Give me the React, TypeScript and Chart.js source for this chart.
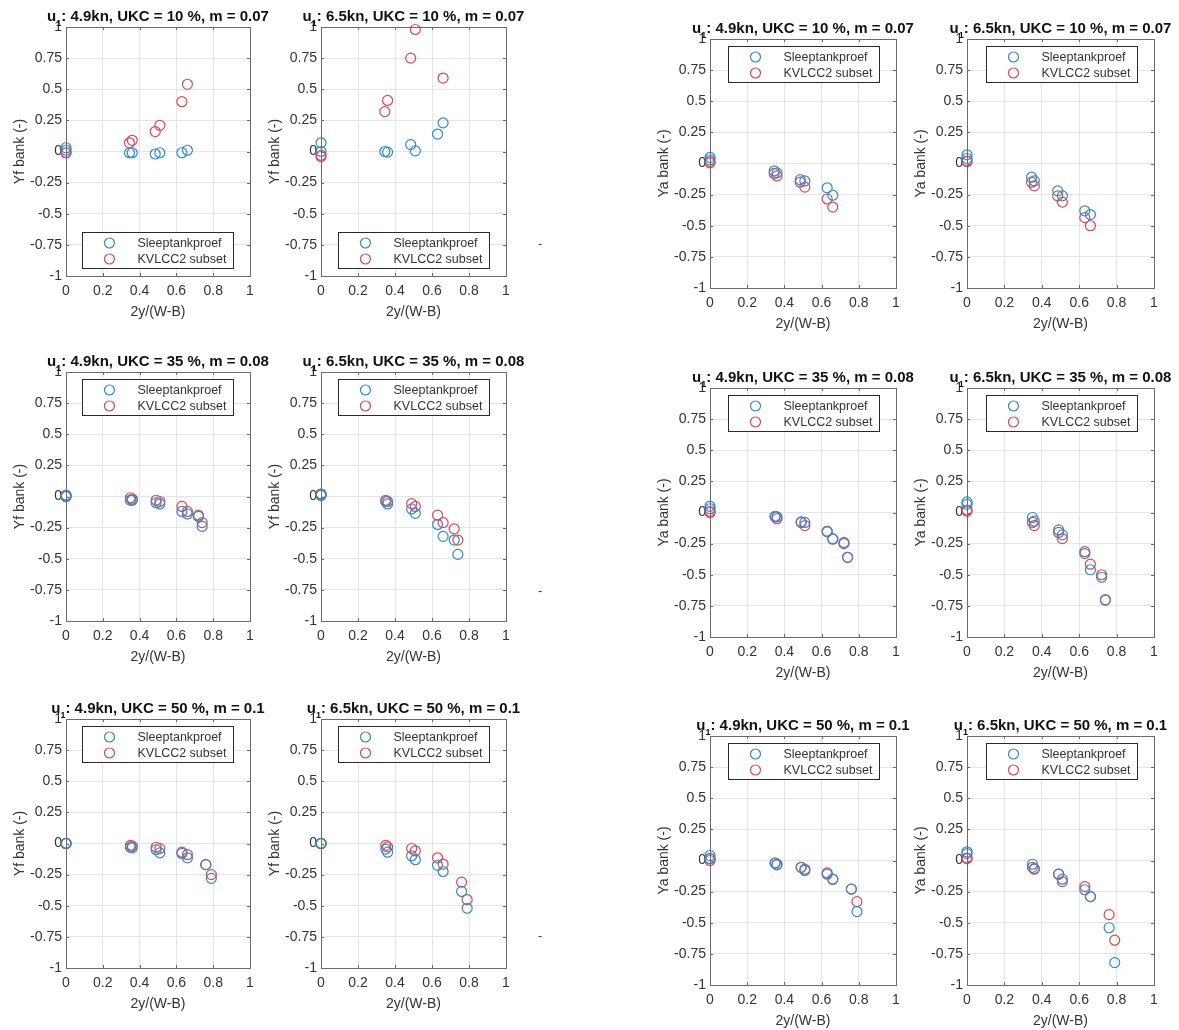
import React, { useEffect, useRef } from 'react';
import { Chart, registerables } from 'chart.js';
Chart.register(...registerables);

// ---------- tick values / labels ----------
const xTickValues = [0, 0.2, 0.4, 0.6, 0.8, 1];
const xTickLabels = ['0', '0.2', '0.4', '0.6', '0.8', '1'];
const yTickValues = [-1, -0.75, -0.5, -0.25, 0, 0.25, 0.5, 0.75, 1];
const yTickLabels = ['-1', '-0.75', '-0.5', '-0.25', '0', '0.25', '0.5', '0.75', '1'];
const seriesNames = ['Sleeptankproef', 'KVLCC2 subset'];
const speeds = ['4.9kn', '6.5kn'];
const ukcs = ['10 %', '35 %', '50 %'];
const mValues = ['0.07', '0.08', '0.1'];
const xLabel = '2y/(W-B)';
const yLabels = ['Yf bank (-)', 'Ya bank (-)'];

// ---------- x positions 2y/(W-B) ----------
const x10 = [0, 0, 0.345, 0.36, 0.485, 0.51, 0.63, 0.66];
const x35 = [0, 0, 0.35, 0.36, 0.49, 0.51, 0.63, 0.66, 0.72, 0.74];
const x50 = [0, 0, 0.35, 0.36, 0.49, 0.51, 0.63, 0.66, 0.76, 0.79];

// ---------- Yf bank ----------
const yf49_10_exp = [0.03, 0.01, -0.01, -0.01, -0.02, -0.01, -0.01, 0.01];
const yf49_10_kv = [-0.01, -0.01, 0.07, 0.09, 0.16, 0.21, 0.40, 0.54];
const yf65_10_exp = [0.07, 0.0, 0.0, -0.005, 0.055, 0.005, 0.14, 0.23];
const yf65_10_kv = [-0.04, -0.03, 0.32, 0.41, 0.75, 0.98, null, 0.59];
const yf49_35_exp = [0.01, 0.0, -0.03, -0.03, -0.05, -0.06, -0.12, -0.14, -0.16, -0.24];
const yf49_35_kv = [0.01, 0.0, -0.01, -0.02, -0.03, -0.04, -0.08, -0.12, -0.15, -0.21];
const yf65_35_exp = [0.02, 0.01, -0.04, -0.06, -0.10, -0.135, -0.225, -0.32, -0.35, -0.465];
const yf65_35_kv = [0.02, 0.01, -0.03, -0.04, -0.057, -0.08, -0.15, -0.21, -0.26, -0.35];
const yf49_50_exp = [0, 0, -0.03, -0.035, -0.05, -0.075, -0.08, -0.115, -0.17, -0.28];
const yf49_50_kv = [0, 0, -0.015, -0.02, -0.03, -0.04, -0.07, -0.09, -0.17, -0.25];
const yf65_50_exp = [0, 0, -0.045, -0.07, -0.10, -0.13, -0.175, -0.225, -0.385, -0.52];
const yf65_50_kv = [0, 0, -0.015, -0.027, -0.04, -0.06, -0.115, -0.165, -0.31, -0.45];

// ---------- Ya bank ----------
const ya49_10_exp = [0.05, 0.03, -0.06, -0.075, -0.13, -0.14, -0.195, -0.255];
const ya49_10_kv = [0.015, 0.005, -0.08, -0.10, -0.15, -0.19, -0.285, -0.35];
const ya65_10_exp = [0.07, 0.04, -0.11, -0.14, -0.22, -0.26, -0.38, -0.41];
const ya65_10_kv = [0.02, 0.015, -0.15, -0.18, -0.26, -0.31, -0.435, -0.50];
const ya49_35_exp = [0.05, 0.03, -0.03, -0.035, -0.075, -0.08, -0.15, -0.21, -0.24, -0.36];
const ya49_35_kv = [0.01, 0.0, -0.035, -0.05, -0.08, -0.105, -0.155, -0.215, -0.25, -0.36];
const ya65_35_exp = [0.085, 0.065, -0.04, -0.07, -0.14, -0.18, -0.33, -0.46, -0.52, -0.705];
const ya65_35_kv = [0.02, 0.01, -0.08, -0.105, -0.16, -0.21, -0.315, -0.415, -0.50, -0.70];
const ya49_50_exp = [0.04, 0.015, -0.02, -0.03, -0.055, -0.08, -0.11, -0.15, -0.23, -0.41];
const ya49_50_kv = [0.015, 0.0, -0.02, -0.035, -0.055, -0.07, -0.10, -0.15, -0.23, -0.33];
const ya65_50_exp = [0.07, 0.055, -0.03, -0.065, -0.11, -0.17, -0.235, -0.29, -0.54, -0.82];
const ya65_50_kv = [0.015, 0.02, -0.055, -0.07, -0.11, -0.15, -0.21, -0.29, -0.435, -0.64];

// ---------- layout (plot-area rectangles) ----------
const colLeft = [66, 321, 710, 967];
const colWidth = [184, 185, 186, 187];
const rowTopLeftGroup = [27, 372, 719];
const rowTopRightGroup = [39, 388, 736];
const plotHeight = 249;
const PAD_L = 70;
const PAD_T = 34;
const PAD_R = 44;
const PAD_B = 52;

const BLUE = '#2b8ccf';
const RED = '#e8434f';
const GRID = '#e4e4e4';
const BOX = '#6b6b6b';
const TEXT = '#333333';
const FONT = '"Liberation Sans", Arial, Helvetica, sans-serif';

type PanelDef = {
  left: number; top: number; width: number;
  speed: string; ukc: string; m: string; yLabel: string;
  xs: number[]; exp: (number | null)[]; kv: (number | null)[];
  legendPos: 'top' | 'bottom';
};

const xsByRow = [x10, x35, x50];
const yfExp = [[yf49_10_exp, yf65_10_exp], [yf49_35_exp, yf65_35_exp], [yf49_50_exp, yf65_50_exp]];
const yfKv = [[yf49_10_kv, yf65_10_kv], [yf49_35_kv, yf65_35_kv], [yf49_50_kv, yf65_50_kv]];
const yaExp = [[ya49_10_exp, ya65_10_exp], [ya49_35_exp, ya65_35_exp], [ya49_50_exp, ya65_50_exp]];
const yaKv = [[ya49_10_kv, ya65_10_kv], [ya49_35_kv, ya65_35_kv], [ya49_50_kv, ya65_50_kv]];

const panels: PanelDef[] = [];
for (let g = 0; g < 2; g++) {
  for (let r = 0; r < 3; r++) {
    for (let c = 0; c < 2; c++) {
      const col = g * 2 + c;
      panels.push({
        left: colLeft[col],
        top: g === 0 ? rowTopLeftGroup[r] : rowTopRightGroup[r],
        width: colWidth[col],
        speed: speeds[c], ukc: ukcs[r], m: mValues[r],
        yLabel: yLabels[g],
        xs: xsByRow[r],
        exp: (g === 0 ? yfExp : yaExp)[r][c],
        kv: (g === 0 ? yfKv : yaKv)[r][c],
        legendPos: g === 0 && r === 0 ? 'bottom' : 'top',
      });
    }
  }
}

const decoPlugin = {
  id: 'panelDeco',
  afterDraw(chart: any, _args: any, opts: any) {
    const { ctx, chartArea: ca, scales } = chart;
    const xs = scales.x, ys = scales.y;
    ctx.save();
    // inward tick marks
    ctx.strokeStyle = BOX;
    ctx.lineWidth = 1;
    ctx.beginPath();
    xTickValues.forEach((v) => {
      const px = Math.round(xs.getPixelForValue(v)) + 0.5;
      ctx.moveTo(px, ca.bottom); ctx.lineTo(px, ca.bottom - 3);
      ctx.moveTo(px, ca.top); ctx.lineTo(px, ca.top + 3);
    });
    yTickValues.forEach((v) => {
      const py = Math.round(ys.getPixelForValue(v)) + 0.5;
      ctx.moveTo(ca.left, py); ctx.lineTo(ca.left + 3, py);
      ctx.moveTo(ca.right, py); ctx.lineTo(ca.right - 3, py);
    });
    ctx.stroke();
    // axes box
    ctx.strokeRect(Math.round(ca.left) + 0.5, Math.round(ca.top) + 0.5, Math.round(ca.right - ca.left), Math.round(ca.bottom - ca.top));

    // legend
    const lw = 151, lh = 36;
    const lx = Math.round(ca.right - 17 - lw) + 0.5;
    const ly = Math.round(opts.legendPos === 'top' ? ca.top + 7 : ca.bottom - 8 - lh) + 0.5;
    ctx.fillStyle = '#ffffff';
    ctx.fillRect(lx, ly, lw, lh);
    ctx.strokeStyle = '#2a2a2a';
    ctx.strokeRect(lx, ly, lw, lh);
    ctx.font = `12.5px ${FONT}`;
    ctx.textAlign = 'left';
    ctx.textBaseline = 'middle';
    [BLUE, RED].forEach((col, i) => {
      const cy = ly + 10.5 + i * 16;
      ctx.beginPath();
      ctx.strokeStyle = col;
      ctx.lineWidth = 1.2;
      ctx.arc(lx + 27, cy, 5, 0, Math.PI * 2);
      ctx.stroke();
      ctx.fillStyle = TEXT;
      ctx.fillText(seriesNames[i], lx + 55, cy + 0.5);
    });

    // title with subscript
    const cx = (ca.left + ca.right) / 2;
    const base = ca.top - 6;
    const bold = `bold 15px ${FONT}`;
    const boldSmall = `bold 9px ${FONT}`;
    const rest = `: ${opts.speed}, UKC = ${opts.ukc}, m = ${opts.m}`;
    ctx.font = bold;
    const wU = ctx.measureText('u').width;
    const wR = ctx.measureText(rest).width;
    ctx.font = boldSmall;
    const wS = ctx.measureText('1').width;
    let tx = cx - (wU + wS + wR) / 2;
    ctx.fillStyle = '#111111';
    ctx.textBaseline = 'alphabetic';
    ctx.font = bold;
    ctx.fillText('u', tx, base); tx += wU;
    ctx.font = boldSmall;
    ctx.fillText('1', tx, base + 5); tx += wS;
    ctx.font = bold;
    ctx.fillText(rest, tx, base);

    // axis titles
    ctx.fillStyle = TEXT;
    ctx.font = `14px ${FONT}`;
    ctx.textAlign = 'center';
    ctx.textBaseline = 'middle';
    ctx.fillText(xLabel, cx, ca.bottom + 36);
    ctx.save();
    ctx.translate(ca.left - 46, (ca.top + ca.bottom) / 2);
    ctx.rotate(-Math.PI / 2);
    ctx.fillText(opts.yLabel, 0, 0);
    ctx.restore();
    ctx.restore();
  },
};

function Panel({ p }: { p: PanelDef }) {
  const ref = useRef<HTMLCanvasElement | null>(null);
  const cw = PAD_L + p.width + PAD_R;
  const ch = PAD_T + plotHeight + PAD_B;
  useEffect(() => {
    if (!ref.current) return;
    const mk = (ys: (number | null)[]) => p.xs.map((x, i) => ({ x, y: ys[i] }));
    const chart = new Chart(ref.current, {
      type: 'scatter',
      data: {
        datasets: [
          { label: seriesNames[0], data: mk(p.exp) as any, clip: false, pointStyle: 'circle', pointRadius: 5, pointBorderWidth: 1.2, pointBorderColor: BLUE, pointBackgroundColor: 'rgba(0,0,0,0)', showLine: false },
          { label: seriesNames[1], data: mk(p.kv) as any, clip: false, pointStyle: 'circle', pointRadius: 5, pointBorderWidth: 1.2, pointBorderColor: RED, pointBackgroundColor: 'rgba(0,0,0,0)', showLine: false },
        ] as any,
      },
      options: {
        animation: false,
        responsive: false,
        devicePixelRatio: 1,
        layout: { padding: { left: 0, top: PAD_T, right: PAD_R, bottom: 0 } },
        plugins: {
          legend: { display: false },
          tooltip: { enabled: false },
          title: { display: false },
          panelDeco: { legendPos: p.legendPos, speed: p.speed, ukc: p.ukc, m: p.m, yLabel: p.yLabel },
        } as any,
        scales: {
          x: {
            type: 'linear', min: 0, max: 1,
            afterFit: (s: any) => { s.height = PAD_B; },
            afterBuildTicks: (s: any) => { s.ticks = xTickValues.map((v) => ({ value: v })); },
            ticks: {
              autoSkip: false, maxRotation: 0, padding: 7, color: TEXT,
              font: { family: FONT, size: 14 },
              callback: (v: any) => { const i = xTickValues.indexOf(Number(v)); return i >= 0 ? xTickLabels[i] : ''; },
            },
            grid: { color: GRID, drawTicks: false, lineWidth: 1 },
            border: { display: false },
          },
          y: {
            type: 'linear', min: -1, max: 1,
            afterFit: (s: any) => { s.width = PAD_L; },
            afterBuildTicks: (s: any) => { s.ticks = yTickValues.map((v) => ({ value: v })); },
            ticks: {
              autoSkip: false, padding: 4, color: TEXT,
              font: { family: FONT, size: 14 },
              callback: (v: any) => { const i = yTickValues.indexOf(Number(v)); return i >= 0 ? yTickLabels[i] : ''; },
            },
            grid: { color: GRID, drawTicks: false, lineWidth: 1 },
            border: { display: false },
          },
        } as any,
      },
      plugins: [decoPlugin as any],
    });
    return () => chart.destroy();
  }, [p]);
  return (
    <canvas
      ref={ref}
      width={cw}
      height={ch}
      style={{ position: 'absolute', left: p.left - PAD_L, top: p.top - PAD_T, width: cw, height: ch }}
    />
  );
}

const strayMarks = [
  { left: 538, top: 236 },
  { left: 538, top: 583 },
  { left: 538, top: 928 },
];

export default function App() {
  return (
    <div style={{ position: 'absolute', left: 0, top: 0, width: 1179, height: 1030, overflow: 'hidden', background: '#ffffff' }}>
      {panels.map((p, i) => <Panel key={i} p={p} />)}
      {strayMarks.map((s, i) => (
        <span key={'m' + i} style={{ position: 'absolute', left: s.left, top: s.top, fontFamily: FONT, fontSize: 13, color: '#444' }}>-</span>
      ))}
    </div>
  );
}
